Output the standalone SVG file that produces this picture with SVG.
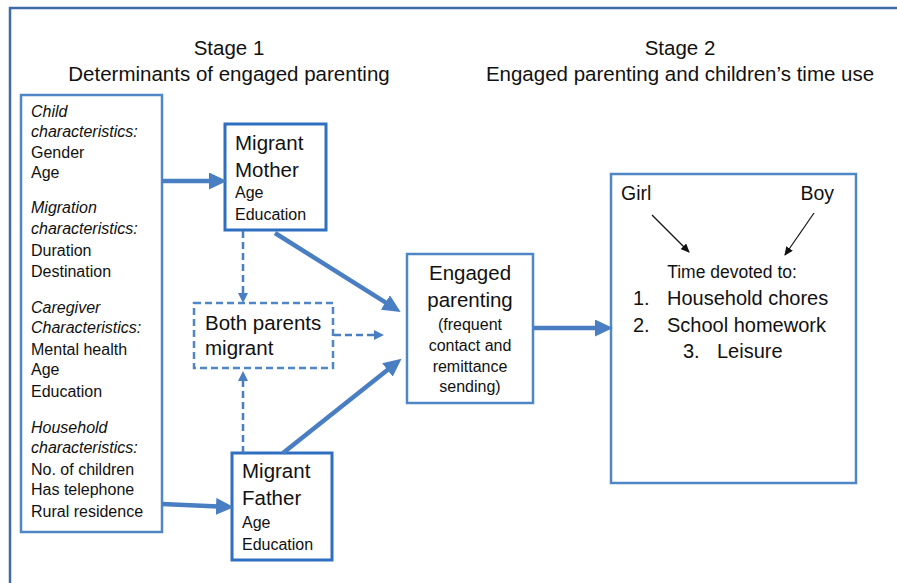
<svg xmlns="http://www.w3.org/2000/svg" width="897" height="583" viewBox="0 0 897 583">
<style>
text{font-family:"Liberation Sans",Arial,sans-serif;fill:#111}
.t{font-size:20.5px}
.s{font-size:16px}
.i{font-style:italic}
.box{fill:#fff;stroke:#4f86c6;stroke-width:2.5}
.pbox{fill:#fff;stroke:#2e6fc0;stroke-width:3}
.dbox{fill:#fff;stroke:#4f86c6;stroke-width:2.5;stroke-dasharray:7 4}
.thick{stroke:#4a7ec2;stroke-width:4.5;fill:none}
.dash{stroke:#4a7ec2;stroke-width:2.5;fill:none;stroke-dasharray:7 4}
.thin{stroke:#111;stroke-width:1.2;fill:none}
</style>
<defs>
<marker id="ah" markerUnits="userSpaceOnUse" markerWidth="19" markerHeight="17" refX="8" refY="8.5" orient="auto">
<path d="M0,0 L18,8.5 L0,17 z" fill="#4a7ec2"/>
</marker>
<marker id="ahs" markerUnits="userSpaceOnUse" markerWidth="11" markerHeight="10" refX="5" refY="5" orient="auto">
<path d="M0,0 L10,5 L0,10 z" fill="#4a7ec2"/>
</marker>
<marker id="ahb" markerUnits="userSpaceOnUse" markerWidth="10" markerHeight="8" refX="8" refY="4" orient="auto">
<path d="M0,0 L9,4 L0,8 z" fill="#111"/>
</marker>
</defs>
<rect width="897" height="583" fill="#fff"/>
<rect x="10" y="8" width="900" height="600" fill="none" stroke="#3e6aa6" stroke-width="2.5"/>

<g id="titles">
<text class="t" x="229" y="55" text-anchor="middle">Stage 1</text>
<text class="t" x="229" y="81" text-anchor="middle">Determinants of engaged parenting</text>
<text class="t" x="680" y="55" text-anchor="middle">Stage 2</text>
<text class="t" x="680" y="81" text-anchor="middle">Engaged parenting and children’s time use</text>
</g>

<g id="determinants">
<rect class="box" x="21" y="95" width="141" height="437"/>
<text class="s" x="31">
<tspan class="i" x="31" y="117">Child</tspan>
<tspan class="i" x="31" y="137">characteristics:</tspan>
<tspan x="31" y="158">Gender</tspan>
<tspan x="31" y="178">Age</tspan>
<tspan class="i" x="31" y="213">Migration</tspan>
<tspan class="i" x="31" y="234">characteristics:</tspan>
<tspan x="31" y="256">Duration</tspan>
<tspan x="31" y="277">Destination</tspan>
<tspan class="i" x="31" y="313">Caregiver</tspan>
<tspan class="i" x="31" y="333">Characteristics:</tspan>
<tspan x="31" y="355">Mental health</tspan>
<tspan x="31" y="375">Age</tspan>
<tspan x="31" y="397">Education</tspan>
<tspan class="i" x="31" y="433">Household</tspan>
<tspan class="i" x="31" y="453">characteristics:</tspan>
<tspan x="31" y="475">No. of children</tspan>
<tspan x="31" y="495">Has telephone</tspan>
<tspan x="31" y="517">Rural residence</tspan>
</text>
</g>

<g id="mother">
<rect class="pbox" x="225" y="124" width="101" height="106"/>
<text class="t" x="235" y="150">Migrant</text>
<text class="t" x="235" y="177">Mother</text>
<text class="s" x="235" y="198">Age</text>
<text class="s" x="235" y="220">Education</text>
</g>

<g id="father">
<rect class="pbox" x="232" y="453" width="100" height="107"/>
<text class="t" x="242" y="478">Migrant</text>
<text class="t" x="242" y="505">Father</text>
<text class="s" x="242" y="528">Age</text>
<text class="s" x="242" y="550">Education</text>
</g>

<g id="both">
<rect class="dbox" x="194" y="303" width="139" height="65"/>
<text class="t" x="205" y="330">Both parents</text>
<text class="t" x="205" y="355">migrant</text>
</g>

<g id="engaged">
<rect class="box" x="407" y="254" width="126" height="149"/>
<text class="t" x="470" y="280" text-anchor="middle">Engaged</text>
<text class="t" x="470" y="307" text-anchor="middle">parenting</text>
<text class="s" x="470" y="330" text-anchor="middle">(frequent</text>
<text class="s" x="470" y="351" text-anchor="middle">contact and</text>
<text class="s" x="470" y="372" text-anchor="middle">remittance</text>
<text class="s" x="470" y="392" text-anchor="middle">sending)</text>
</g>

<g id="timeuse">
<rect class="box" x="611" y="174" width="245" height="309"/>
<text class="t" x="621" y="200" style="font-size:19.5px">Girl</text>
<text class="t" x="834" y="200" text-anchor="end" style="font-size:19.5px">Boy</text>
<text x="732" y="278" text-anchor="middle" style="font-size:17.5px">Time devoted to:</text>
<text class="t" x="633" y="305" style="font-size:20px">1.</text>
<text class="t" x="667" y="305" style="font-size:20px">Household chores</text>
<text class="t" x="633" y="332" style="font-size:20px">2.</text>
<text class="t" x="667" y="332" style="font-size:20px">School homework</text>
<text class="t" x="683" y="358" style="font-size:20px">3.</text>
<text class="t" x="717" y="358" style="font-size:20px">Leisure</text>
</g>

<g id="connectors">
<line class="thick" x1="162" y1="181" x2="217" y2="181" marker-end="url(#ah)"/>
<line class="thick" x1="162" y1="504" x2="224" y2="506.7" marker-end="url(#ah)"/>
<line class="thick" x1="275" y1="233" x2="392.2" y2="306.7" marker-end="url(#ah)"/>
<line class="thick" x1="283" y1="453" x2="393.7" y2="365" marker-end="url(#ah)"/>
<line class="thick" x1="533" y1="328" x2="603" y2="328" marker-end="url(#ah)"/>
<line class="dash" x1="243" y1="231" x2="243" y2="298" marker-end="url(#ahs)"/>
<line class="dash" x1="243" y1="453" x2="243" y2="376" marker-end="url(#ahs)"/>
<line class="dash" x1="334" y1="335" x2="379" y2="335" marker-end="url(#ahs)"/>
<line class="thin" x1="652" y1="215" x2="689" y2="252" marker-end="url(#ahb)"/>
<line class="thin" x1="814" y1="213" x2="785" y2="255" marker-end="url(#ahb)"/>
</g>
</svg>
